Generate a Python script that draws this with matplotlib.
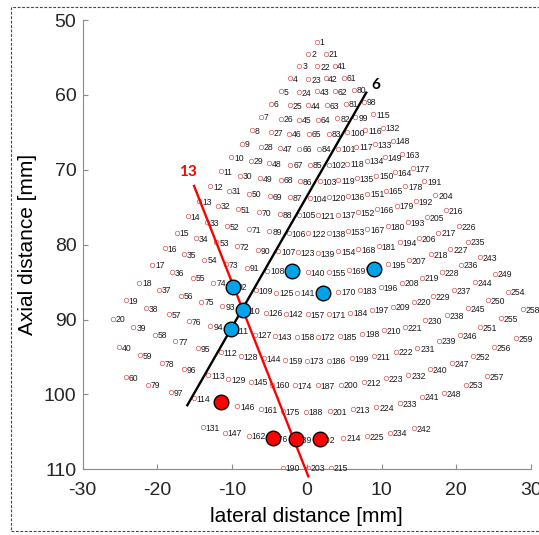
import matplotlib
matplotlib.use('Agg')
import matplotlib.pyplot as plt
from matplotlib.patches import Rectangle

plt.rcParams['font.family'] = ['Liberation Sans', 'DejaVu Sans']
plt.rcParams['axes.unicode_minus'] = False

# element positions [mm], numbered 1..259 in order
lateral = [
    1.3, 0.2, -1.0, -2.2, -3.5, -4.8, -6.1, -7.3, -8.7, -10.1, -11.5, -12.9, -14.4, -15.9, -17.4, -19.0, -20.7, -22.4, -24.2, -26.0,
    2.5, 1.4, 0.2, -1.1, -2.3, -3.5, -4.8, -6.2, -7.5, -9.0, -10.4, -11.9, -13.4, -14.9, -16.5, -18.1, -19.8, -21.5, -23.2, -25.1,
    3.7, 2.5, 1.4, 0.2, -1.1, -2.4, -3.6, -5.0, -6.3, -7.8, -9.2, -10.7, -12.1, -13.7, -15.3, -16.9, -18.5, -20.3, -22.3, -24.2,
    5.0, 3.8, 2.7, 1.5, 0.3, -1.0, -2.2, -3.5, -4.9, -6.4, -7.8, -9.4, -10.8, -12.5, -14.1, -15.8, -17.6, -19.4, -21.3,
    6.3, 5.2, 4.1, 2.9, 1.6, 0.4, -0.9, -2.3, -3.6, -5.0, -6.5, -8.0, -9.6, -11.3, -12.9, -14.6, -16.4, -18.2,
    7.6, 6.5, 5.4, 4.2, 2.9, 1.7, 0.4, -1.1, -2.4, -3.8, -5.3, -6.8, -8.5, -10.0, -11.5, -13.2, -15.1,
    8.9, 7.8, 6.6, 5.4, 4.2, 2.9, 1.5, 0.2, -1.2, -2.6, -4.1, -5.5, -7.0, -8.8, -10.5, -12.2, -13.9,
    10.2, 9.1, 8.0, 6.7, 5.5, 4.2, 2.9, 1.5, 0.1, -1.3, -2.8, -4.3, -5.8, -7.5, -9.3, -11.0,
    11.5, 10.4, 9.3, 8.1, 6.8, 5.5, 4.2, 2.9, 1.5, 0.1, -1.3, -2.9, -4.6, -6.2, -7.8,
    12.8, 11.8, 10.6, 9.4, 8.1, 6.9, 5.6, 4.2, 2.9, 1.5, 0.0, -1.6, -3.2, -4.8,
    14.2, 13.2, 12.0, 10.8, 9.6, 8.2, 7.1, 5.8, 4.4, 2.9, 1.5, -0.1, -1.7, -3.2,
    15.7, 14.6, 13.5, 12.4, 10.9, 9.9, 8.7, 7.4, 6.0, 4.6, 3.1, 1.4, 0.1,
    17.2, 16.1, 15.0, 13.7, 12.7, 11.5, 10.3, 9.0, 7.6, 6.2, 4.9, 3.2,
    18.6, 17.6, 16.6, 15.4, 14.3, 13.1, 11.9, 10.6, 9.3, 8.0,
    20.3, 19.2, 18.1, 16.9, 15.8, 14.8, 13.6, 12.4, 11.1,
    21.6, 20.6, 19.7, 18.7, 17.7, 16.5, 15.4, 14.3,
    23.2, 22.5, 21.5, 20.5, 19.4, 18.3,
    25.2, 24.2, 23.2, 22.2, 21.3,
    26.9, 26.0, 25.0, 24.1,
    28.9, 28.0,
]
axial = [
    52.9, 54.5, 56.1, 57.8, 59.5, 61.2, 62.9, 64.7, 66.5, 68.3, 70.2, 72.2, 74.2, 76.2, 78.4, 80.5, 82.7, 85.1, 87.4, 89.9,
    54.5, 56.2, 57.9, 59.6, 61.4, 63.2, 65.0, 66.9, 68.8, 70.8, 72.8, 74.8, 77.0, 79.1, 81.3, 83.7, 86.0, 88.5, 91.0, 93.7,
    56.1, 57.8, 59.5, 61.4, 63.3, 65.2, 67.1, 69.1, 71.1, 73.2, 75.3, 77.5, 79.7, 82.0, 84.4, 86.8, 89.3, 92.0, 94.8, 97.7,
    57.7, 59.5, 61.4, 63.3, 65.2, 67.2, 69.3, 71.3, 73.5, 75.7, 77.9, 80.2, 82.6, 85.1, 87.6, 90.2, 92.9, 95.8, 98.7,
    59.3, 61.2, 63.1, 65.2, 67.2, 69.3, 71.5, 73.7, 75.9, 78.2, 80.7, 83.1, 85.6, 88.2, 90.9, 93.8, 96.6, 99.7,
    60.9, 63.0, 65.0, 67.2, 69.3, 71.5, 73.8, 76.0, 78.5, 80.9, 83.5, 86.1, 88.8, 91.5, 94.4, 97.4, 100.5,
    62.6, 64.7, 66.9, 69.2, 71.4, 73.7, 76.1, 78.5, 81.0, 83.6, 86.4, 89.1, 92.0, 94.9, 98.0, 101.0, 104.4,
    64.4, 66.6, 68.8, 71.1, 73.5, 76.0, 78.5, 81.1, 83.7, 86.4, 89.2, 92.2, 95.2, 98.3, 101.6, 105.1,
    66.1, 68.3, 70.8, 73.2, 75.7, 78.2, 80.9, 83.7, 86.4, 89.3, 92.3, 95.4, 98.7, 102.0, 105.5,
    67.9, 70.3, 72.8, 75.3, 77.9, 80.6, 83.4, 86.3, 89.3, 92.3, 95.5, 98.8, 102.2, 105.9,
    69.8, 72.2, 74.8, 77.5, 80.2, 83.1, 86.1, 89.1, 92.2, 95.5, 98.8, 102.3, 106.0, 109.8,
    71.5, 74.2, 77.0, 79.7, 82.6, 85.7, 88.7, 91.9, 95.2, 98.7, 102.2, 106.0, 109.8,
    73.4, 76.3, 79.1, 82.1, 85.1, 88.3, 91.4, 94.9, 98.4, 102.0, 105.8, 109.8,
    75.4, 78.4, 81.3, 84.4, 87.6, 91.0, 94.3, 97.8, 101.7, 105.6,
    77.5, 80.6, 83.7, 86.9, 90.1, 93.8, 97.4, 101.2, 105.1,
    79.6, 82.7, 86.1, 89.4, 92.8, 96.6, 100.3, 104.5,
    81.7, 85.0, 88.5, 92.1, 95.8, 99.8,
    83.9, 87.4, 91.0, 94.9, 98.7,
    86.3, 89.8, 93.7, 97.6,
    88.6, 92.5,
]
# labels covered by the highlighted dots
hidden_labels = [124, 130, 156, 182]

blue_x = [-9.9, -8.6, -10.1, -2.0, 2.1, 9.0]
blue_y = [85.7, 88.7, 91.3, 83.5, 86.4, 83.2]
red_x = [-11.5, -4.5, -1.5, 1.8]
red_y = [101.0, 105.8, 106.0, 106.0]

line6_x = [-16.0, 7.95]
line6_y = [101.45, 59.7]
line13_x = [-15.1, 0.2]
line13_y = [72.15, 110.95]

fig = plt.figure(figsize=(5.39, 5.35), dpi=100)
ax = fig.add_axes([0.1534, 0.1228, 0.8318, 0.8398])

ax.plot(lateral, axial, 'o', ms=3.2, mfc='none', mec='#d96a6a', mew=0.6, zorder=2)
for i, (x, y) in enumerate(zip(lateral, axial), start=1):
    if i in hidden_labels:
        continue
    ax.annotate(str(i), (x, y), xytext=(2.0, -0.8), textcoords='offset points',
                fontsize=6.2, ha='left', va='center', color='#1a1a1a', zorder=3)

ax.plot(line6_x, line6_y, color='black', lw=1.7, zorder=4)
ax.plot(line13_x, line13_y, color='red', lw=1.7, zorder=4, clip_on=False)
ax.text(9.2, 58.7, '6', fontsize=11, fontweight='bold', family='Lato',
        color='black', ha='center', va='center')
ax.text(-15.85, 70.25, '13', fontsize=11, fontweight='bold', family='Lato',
        color='red', ha='center', va='center')

ax.plot(blue_x, blue_y, 'o', ms=10.5, mfc='#00a2e8', mec='black', mew=1, zorder=5)
ax.plot(red_x, red_y, 'o', ms=10.5, mfc='red', mec='black', mew=1, zorder=5, clip_on=False)

ax.set_xlim(-30, 30)
ax.set_ylim(110, 50)
ax.set_xticks(range(-30, 31, 10))
ax.set_yticks(range(50, 111, 10))
ax.spines['top'].set_visible(False)
ax.spines['right'].set_visible(False)
for s in ['left', 'bottom']:
    ax.spines[s].set_color('#8c8c8c')
    ax.spines[s].set_linewidth(0.8)
ax.tick_params(direction='in', length=3.5, width=0.8, color='#8c8c8c',
               labelsize=14, labelcolor='#262626')
ax.tick_params(axis='x', pad=9)
ax.tick_params(axis='y', pad=4.5)
ax.set_xlabel('lateral distance [mm]', fontsize=15, labelpad=6)
ax.set_ylabel('Axial distance [mm]', fontsize=15, labelpad=5)

fig.patches.append(Rectangle((11 / 539, 1 - 530.7 / 535), 1.0, (530.7 - 6.7) / 535,
                             transform=fig.transFigure, fill=False, edgecolor='#444444',
                             lw=0.8, linestyle=(0, (2.5, 1.5))))

fig.savefig('out.png', dpi=100)
